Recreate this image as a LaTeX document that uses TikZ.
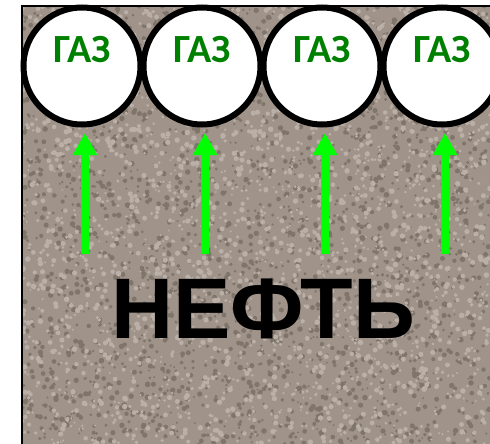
\documentclass[tikz,border=0pt]{standalone}
\usepackage{fontspec}
\setmainfont{Liberation Sans}
\newfontfamily\gasfont{Carlito}
\usetikzlibrary{arrows.meta}
\definecolor{ground}{RGB}{160,148,138}
\definecolor{grdark}{RGB}{128,117,107}
\definecolor{grlight}{RGB}{186,176,167}
\definecolor{gastext}{RGB}{0,128,0}
\definecolor{arrowgreen}{RGB}{0,255,0}
\tikzset{
  gas/.style={circle, draw=black, line width=6pt, fill=white, minimum size=117pt, inner sep=0pt},
  gaslabel/.style={font=\gasfont\bfseries\fontsize{40}{40}\selectfont, text=gastext, anchor=base},
  uparrow/.style={-{Triangle[width=23pt,length=22pt]}, line width=8pt, draw=arrowgreen},
  oil/.style={font=\bfseries\fontsize{86}{86}\selectfont, text=black, anchor=base}
}
\begin{document}
\begin{tikzpicture}[x=1pt,y=-1pt]
\useasboundingbox (0,0) rectangle (490,444);
\fill[white] (0,0) rectangle (490,444);
\begin{scope}
\clip (22,6) rectangle (490,444);
\fill[ground] (22,6) rectangle (490,444);
\pgfmathsetseed{4711}
\foreach \i in {1,...,2600}{
  \pgfmathsetmacro\rx{22+468*rnd}
  \pgfmathsetmacro\ry{6+438*rnd}
  \pgfmathsetmacro\rr{1+1.8*rnd}
  \fill[grdark] (\rx,\ry) circle (\rr);
}
\foreach \i in {1,...,2600}{
  \pgfmathsetmacro\rx{22+468*rnd}
  \pgfmathsetmacro\ry{6+438*rnd}
  \pgfmathsetmacro\rr{1+1.8*rnd}
  \fill[grlight] (\rx,\ry) circle (\rr);
}
\end{scope}
\draw[line width=2pt] (490,6) -- (22,6) -- (22,444);
% gas bubbles
\foreach \n/\cx in {1/82,2/202,3/322,4/442}{
  \node[gas] (g\n) at (\cx,66) {};
  \node[gaslabel] (t\n) at (\cx,63) {ГАЗ};
}
% arrows
\foreach \n/\ax in {1/85,2/205,3/325,4/445}{
  \coordinate (s\n) at (\ax,254);
  \coordinate (e\n) at (\ax,133);
  \draw[uparrow] (s\n) -- (e\n);
}
\node[oil] (oil) at (263,338) {НЕФТЬ};
\end{tikzpicture}
\end{document}
